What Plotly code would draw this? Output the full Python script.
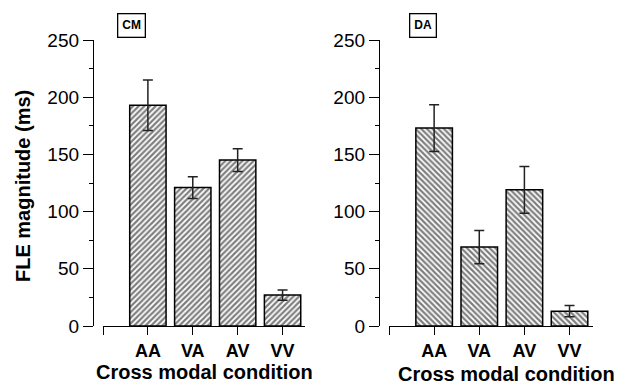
import plotly.graph_objects as go

categories = ["AA", "VA", "AV", "VV"]
cm_values = [193, 121, 145, 27]
cm_errors = [22, 9.5, 10, 4.5]
da_values = [173, 69, 119, 13]
da_errors = [20.5, 14.5, 20.5, 5]
y_ticks = [0, 50, 100, 150, 200, 250]
panel_labels = ["CM", "DA"]
x_title = "Cross modal condition"
y_title = "FLE magnitude (ms)"

# page body has an 8px margin; figure is sized/offset to compensate
OFF = 8
W, H = 626 - OFF, 385 - OFF
FONT = "Liberation Sans, Arial, sans-serif"

def px_x(p):
    return (p - OFF) / W

def px_y(p):
    return (H - (p - OFF)) / H

xpos = list(range(len(categories)))

fig = go.Figure()

def add_panel(values, errors, xa, ya, shape):
    fig.add_trace(go.Bar(
        x=xpos, y=values, xaxis=xa, yaxis=ya, width=0.81,
        marker=dict(color="white",
                    line=dict(color="black", width=1.5),
                    pattern=dict(shape=shape, fgcolor="black", bgcolor="white",
                                 size=4, solidity=0.55)),
        error_y=dict(type="data", array=errors, visible=True,
                     color="#222", thickness=1.5, width=5),
        showlegend=False,
    ))

add_panel(cm_values, cm_errors, "x", "y", "/")
add_panel(da_values, da_errors, "x2", "y2", "\\")

ydom = [px_y(326), px_y(40)]
axis_common_y = dict(range=[0, 250], tickvals=y_ticks, showline=True, linecolor="black",
                     linewidth=1.3, ticks="outside", ticklen=10, tickwidth=1.3,
                     tickcolor="black", showgrid=False, zeroline=False, automargin=False,
                     tickfont=dict(family=FONT, size=19, color="black"),
                     minor=dict(dtick=25, ticks="outside", ticklen=4, tickwidth=1.3,
                                tickcolor="black", showgrid=False),
                     domain=ydom, anchor="free")

def xaxis_cfg(dom, rng, yanchor):
    return dict(domain=dom, range=rng, anchor=yanchor, automargin=False,
                tickvals=[rng[0]] + xpos, ticktext=[""] + categories,
                showline=True, linecolor="black", linewidth=1.3,
                ticks="outside", ticklen=8, tickwidth=1.3, tickcolor="black",
                showgrid=False, zeroline=False,
                tickfont=dict(family=FONT, size=18, color="black", weight="bold"))

fig.update_layout(
    width=W, height=H,
    margin=dict(l=0, r=0, t=0, b=0, autoexpand=False),
    paper_bgcolor="white", plot_bgcolor="white",
    xaxis=xaxis_cfg([px_x(103), px_x(305)], [-1.0, 3.5], "y"),
    xaxis2=xaxis_cfg([px_x(389), px_x(593)], [-1.0, 3.52], "y2"),
    yaxis=dict(axis_common_y, position=px_x(93)),
    yaxis2=dict(axis_common_y, position=px_x(379)),
    bargap=0.19,
)

annotations = [
    dict(text=f"<b>{panel_labels[0]}</b>", x=px_x(131), y=px_y(25), xref="paper", yref="paper",
         xanchor="center", yanchor="middle",
         showarrow=False, font=dict(family=FONT, size=12, color="black"),
         bordercolor="black", borderwidth=1.3, borderpad=4, bgcolor="white"),
    dict(text=f"<b>{panel_labels[1]}</b>", x=px_x(423), y=px_y(25), xref="paper", yref="paper",
         xanchor="center", yanchor="middle",
         showarrow=False, font=dict(family=FONT, size=12, color="black"),
         bordercolor="black", borderwidth=1.3, borderpad=4, bgcolor="white"),
    dict(text=f"<b>{x_title}</b>", x=px_x(204), y=px_y(372), xref="paper", yref="paper",
         xanchor="center", yanchor="middle",
         showarrow=False, font=dict(family=FONT, size=20, color="black")),
    dict(text=f"<b>{x_title}</b>", x=px_x(506), y=px_y(374), xref="paper", yref="paper",
         xanchor="center", yanchor="middle",
         showarrow=False, font=dict(family=FONT, size=20, color="black")),
    dict(text=f"<b>{y_title}</b>", x=px_x(23), y=px_y(186), xref="paper", yref="paper",
         xanchor="center", yanchor="middle",
         showarrow=False, textangle=-90, font=dict(family=FONT, size=20, color="black")),
]
fig.update_layout(annotations=annotations)

fig.write_html("out.html")
